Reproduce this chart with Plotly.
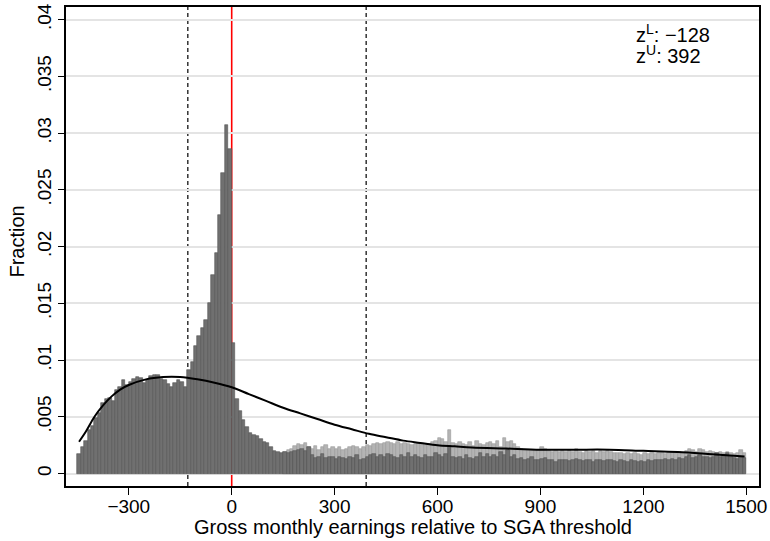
import plotly.graph_objects as go

# ---------------- data ----------------
BIN_WIDTH = 10
bin_left = list(range(-450, 1500, BIN_WIDTH))  # 195 bins, -450 .. 1490

# dark bars (all bins)
dark_neg = [.00176, .0023, .0029, .0038, .0042, .0049, .0053, .0062, .0066, .0067,
            .0064, .0074, .0076, .0082, .0078, .0081, .0083, .0085, .0084, .0080,
            .0082, .0086, .0087, .0087, .0083, .0082, .0079, .0076, .0080, .0082,
            .0081, .0076, .0091, .0098, .0112, .0121, .0128, .0135, .0150, .0175,
            .0194, .0228, .0265, .0307, .0286]
dark_0_220 = [.0115, .0066, .0055, .0047, .0041, .0036, .0034, .0033, .0030, .0028,
              .0027, .0023, .0020, .0019, .0018, .0019, .0018, .0019, .0020, .0021,
              .0022, .0020, .0023]
dark_230_770 = [.0016, .0014, .0015, .0017, .0014, .0015, .0015, .0013, .0015, .0014,
                .0013, .0015, .0014, .0016, .0012, .0013, .0015, .0016, .0017, .0015,
                .0016, .0015, .0017, .0016, .0015, .0014, .0016, .0015, .0018, .0015,
                .0016, .0015, .0014, .0016, .0015, .0015, .0018, .0016, .0015, .0017,
                .0024, .0015, .0014, .0015, .0013, .0016, .0014, .0013, .0015, .0018,
                .0015, .0017, .0015, .0016, .0015]
dark_780_1490 = [.0019, .0016, .0021, .0015, .0016, .0013, .0014, .0012, .0013, .0015,
                 .0012, .0012, .0013, .0014, .0012, .0012, .0010, .0012, .0012, .0012,
                 .0011, .0012, .0013, .0012, .0011, .0012, .0012, .0010, .0012, .0012,
                 .0011, .0012, .0012, .0011, .0010, .0012, .0011, .0010, .0012, .0011,
                 .0010, .0011, .0010, .0012, .0011, .0012, .0012, .0012, .0013, .0012,
                 .0013, .0012, .0014, .0013, .0015, .0016, .0014, .0015, .0016, .0015,
                 .0015, .0014, .0015, .0018, .0015, .0016, .0018, .0015, .0014, .0013,
                 .0015, .0014]
dark = dark_neg + dark_0_220 + dark_230_770 + dark_780_1490

# light bars (visible from 150 upward)
light_first_bin = 150
light_150_770 = [.0019, .0021, .0022, .0024, .0026, .0025, .0027, .0023, .0022, .0024,
                 .0021, .0023, .0025, .0022, .0023, .0022, .0023, .0021, .0022, .0023,
                 .0024, .0023, .0022, .0023, .0025, .0024, .0026, .0027, .0026, .0027,
                 .0028, .0027, .0026, .0028, .0026, .0027, .0026, .0025, .0026, .0027,
                 .0026, .0025, .0026, .0028, .0029, .0031, .0030, .0028, .0038, .0027,
                 .0026, .0028, .0026, .0025, .0028, .0024, .0029, .0026, .0025, .0027,
                 .0028, .0026, .0029]
light_780_1490 = [.0023, .0031, .0028, .0029, .0026, .0023, .0022, .0021, .0021, .0021,
                  .0020, .0021, .0023, .0022, .0020, .0019, .0020, .0019, .0020, .0019,
                  .0021, .0019, .0022, .0019, .0018, .0020, .0019, .0020, .0018, .0020,
                  .0019, .0020, .0019, .0018, .0018, .0018, .0017, .0018, .0017, .0018,
                  .0017, .0016, .0018, .0017, .0018, .0017, .0018, .0018, .0017, .0018,
                  .0019, .0018, .0019, .0018, .0020, .0022, .0021, .0019, .0022, .0021,
                  .0019, .0020, .0019, .0018, .0019, .0018, .0019, .0018, .0017, .0018,
                  .0021, .0018]
light = light_150_770 + light_780_1490
light_left = [b for b in bin_left if b >= light_first_bin]

# smooth counterfactual curve
curve_x = [-445, -425, -400, -375, -350, -325, -300, -250, -200, -150, -100, -50, 0,
           50, 100, 150, 200, 250, 300, 350, 400, 450, 500, 550, 600, 650, 700,
           800, 900, 1000, 1100, 1200, 1300, 1400, 1495]
curve_y = [.0028, .0037, .0050, .0060, .0068, .0074, .0078, .0083, .0085, .0085, .0083,
           .0080, .0076, .0070, .0064, .0058, .0053, .0048, .0043, .0039, .0035, .0032,
           .0029, .0027, .0025, .0024, .0023, .0022, .0021, .0021, .0021, .0020, .0019,
           .0017, .0015]

threshold = 0
z_lower = -128
z_upper = 392

x_ticks = [-300, 0, 300, 600, 900, 1200, 1500]
x_ticktext = ["\u2212300", "0", "300", "600", "900", "1200", "1500"]
y_ticks = [0, .005, .01, .015, .02, .025, .03, .035, .04]
y_ticktext = ["0", ".005", ".01", ".015", ".02", ".025", ".03", ".035", ".04"]

x_title = "Gross monthly earnings relative to SGA threshold"
y_title = "Fraction"

# ---------------- figure ----------------
FONT = "Liberation Sans, Arial, Helvetica, sans-serif"
fig = go.Figure()

fig.add_trace(go.Bar(
    x=[b + BIN_WIDTH / 2 for b in light_left], y=light, width=BIN_WIDTH,
    marker=dict(color="#b4b4b4", line=dict(color="#9a9a9a", width=0.6)),
    showlegend=False, hoverinfo="skip"))
fig.add_trace(go.Bar(
    x=[b + BIN_WIDTH / 2 for b in bin_left], y=dark, width=BIN_WIDTH,
    marker=dict(color="#707070", line=dict(color="#545454", width=0.6)),
    showlegend=False, hoverinfo="skip"))
fig.add_trace(go.Scatter(
    x=curve_x, y=curve_y, mode="lines", line=dict(color="black", width=2, shape="spline"),
    showlegend=False, hoverinfo="skip"))

fig.add_shape(type="line", x0=threshold, x1=threshold, y0=0, y1=1, yref="paper",
              line=dict(color="#ff0000", width=1.6), layer="between")
for z in (z_lower, z_upper):
    fig.add_shape(type="line", x0=z, x1=z, y0=0, y1=1, yref="paper",
                  line=dict(color="#333333", width=1.5, dash="4px,3px"), layer="between")

fig.add_annotation(x=0.819, y=0.944, xref="paper", yref="paper", xanchor="left", yanchor="middle",
                   text="z<sup>L</sup>: \u2212128", showarrow=False,
                   font=dict(size=20, color="black", family=FONT))
fig.add_annotation(x=0.819, y=0.901, xref="paper", yref="paper", xanchor="left", yanchor="middle",
                   text="z<sup>U</sup>: 392", showarrow=False,
                   font=dict(size=20, color="black", family=FONT))
# axis titles
fig.add_annotation(x=0.5, y=-0.085, xref="paper", yref="paper", xanchor="center", yanchor="middle",
                   text=x_title, showarrow=False, font=dict(size=20, color="black", family=FONT))
fig.add_annotation(x=-0.071, y=0.51, xref="paper", yref="paper", xanchor="center", yanchor="middle",
                   text=y_title, textangle=-90, showarrow=False,
                   font=dict(size=20, color="black", family=FONT))

fig.update_layout(
    width=770, height=541,
    margin=dict(l=66, r=11, t=7, b=55),
    paper_bgcolor="white", plot_bgcolor="white",
    barmode="overlay", bargap=0,
    font=dict(family=FONT, size=19, color="black"),
    xaxis=dict(range=[-483, 1537], tickmode="array", tickvals=x_ticks, ticktext=x_ticktext,
               ticks="outside", ticklen=7, tickwidth=1.2, tickcolor="black",
               tickfont=dict(size=19), automargin=False, ticklabelstandoff=-5,
               showline=True, linecolor="black", linewidth=1.5, mirror=True,
               showgrid=False, zeroline=False),
    yaxis=dict(range=[-0.0011, 0.04112], tickmode="array", tickvals=y_ticks, ticktext=y_ticktext,
               tickangle=-90, ticks="outside", ticklen=6, tickwidth=1.2, tickcolor="black",
               tickfont=dict(size=19), automargin=False,
               showline=True, linecolor="black", linewidth=1.5, mirror=True,
               showgrid=True, gridcolor="#e4e4e4", gridwidth=1.5, zeroline=False),
)

fig.write_html("out.html", config={"displayModeBar": False},
               post_script="document.body.style.margin='0';document.body.style.overflow='hidden';")
